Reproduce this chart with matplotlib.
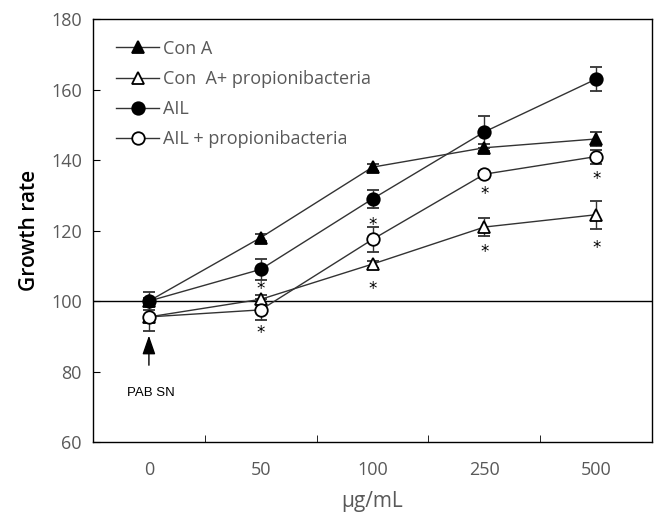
import numpy as np
from matplotlib import pyplot as plt
from matplotlib.lines import Line2D

# doses (categorical x axis)
doses = ["0", "50", "100", "250", "500"]

conA = [100, 118, 138, 143.5, 146]
conA_err = [1, 1, 1, 1, 2]
conA_prop = [95.5, 100.5, 110.5, 121, 124.5]
conA_prop_err = [0, 1.2, 1, 2.5, 4]
ail = [100, 109, 129, 148, 163]
ail_err = [2.5, 3, 2.5, 4.5, 3.5]
ail_prop = [95.5, 97.5, 117.5, 136, 141]
ail_prop_err = [4, 3, 3.5, 1, 2]

# significance stars (x index, y value)
star_x = [1, 1, 2, 2, 3, 3, 4, 4]
star_y = [103.5, 91, 121.5, 103.5, 130.5, 114, 134.5, 115]

plt.rcParams['font.family'] = ['Open Sans', 'DejaVu Sans']
grey = "#595959"

fig = plt.figure(figsize=(6.62, 5.17), dpi=100)
ax = fig.add_axes([0.1405, 0.145, 0.8445, 0.818])

x = np.arange(len(doses))
lc = "#333333"
common = dict(color=lc, lw=1.0, capsize=4, elinewidth=1.0, capthick=1.0,
              markersize=9, markeredgecolor="black", markeredgewidth=1.3)

series = [
    (conA, conA_err, "^", "black", "Con A"),
    (conA_prop, conA_prop_err, "^", "white", "Con  A+ propionibacteria"),
    (ail, ail_err, "o", "black", "AIL"),
    (ail_prop, ail_prop_err, "o", "white", "AIL + propionibacteria"),
]
handles = []
for vals, err, mk, fc, lab in series:
    ax.errorbar(x, vals, yerr=err, marker=mk, markerfacecolor=fc, zorder=3, **common)
    handles.append(Line2D([], [], color=lc, lw=1.0, marker=mk, markerfacecolor=fc,
                          markeredgecolor="black", markeredgewidth=1.3,
                          markersize=9, label=lab))

ax.axhline(100, color="black", lw=1.0, zorder=2)

for sx, sy in zip(star_x, star_y):
    ax.text(sx, sy, "*", ha="center", va="center", fontsize=12, color="black",
            family="DejaVu Sans")

# arrow marking supernatant addition
ax.annotate("", xy=(0, 90.2), xytext=(0, 81.8),
            arrowprops=dict(arrowstyle="-|>,head_length=1.15,head_width=0.4",
                            color="black", lw=1.0, mutation_scale=10,
                            shrinkA=0, shrinkB=0))
ax.text(0.02, 74, "PAB SN", ha="center", va="center", fontsize=9.5,
        family="Liberation Sans")

ax.set_xlim(-0.5, 4.5)
ax.set_ylim(60, 180)
ax.set_yticks(range(60, 181, 20))
ax.set_xticks(x)
ax.set_xticklabels(doses)
ax.set_xticks(np.arange(-0.5, 4.6, 0.5), minor=True)
ax.tick_params(axis="x", which="both", direction="in", length=5, color="black",
               labelcolor=grey, labelsize=13, pad=14)
ax.tick_params(axis="x", which="major", length=0)
ax.tick_params(axis="y", direction="in", length=5, labelcolor=grey, labelsize=13,
               pad=8)
for s in ax.spines.values():
    s.set_color("black")
    s.set_linewidth(1.0)

ax.set_ylabel("Growth rate", fontsize=15, color="black", fontweight="semibold",
              labelpad=8)
ax.set_xlabel("μg/mL", fontsize=15, color=grey, labelpad=8)

leg = ax.legend(handles=handles, loc="upper left", frameon=False, fontsize=13,
                handlelength=2.4, handletextpad=0.2, labelspacing=0.68,
                bbox_to_anchor=(0.012, 0.99))
for t in leg.get_texts():
    t.set_color(grey)

fig.savefig("out.png", dpi=100)
